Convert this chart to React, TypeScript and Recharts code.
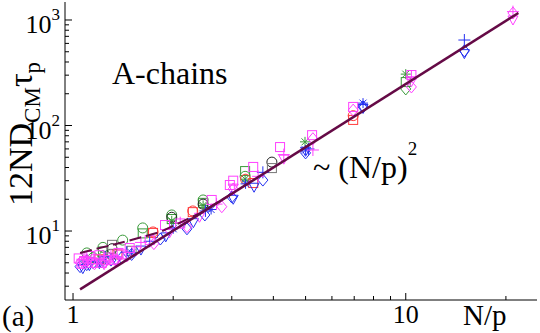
import React from "react"
import { ScatterChart, Scatter, XAxis, YAxis } from "recharts"

const X_DOMAIN = [0.946, 24.8]
const Y_DOMAIN = [2.22, 1481]
const X_TICKS = [1, 2, 3, 4, 5, 6, 7, 8, 9, 10, 20]
const Y_TICKS = [3, 4, 5, 6, 7, 8, 9, 10, 20, 30, 40, 50, 60, 70, 80, 90, 100, 200, 300, 400, 500, 600, 700, 800, 900, 1000]
const X_LABELS = [1, 10]
const Y_LABELS = [10, 100, 1000]

// fits: ~ (N/p)^2 and the low-N/p crossover
const fitX = [1.05, 21.8]
const fitY = [2.8, 1165]
const crossX = [1.05, 1.45, 1.83, 2.41, 3.03]
const crossY = [6.2, 8.0, 9.8, 14.8, 23]

const greenCircleX = [1.1, 1.15, 1.23, 1.3, 1.41, 1.62, 1.98, 2.46, 3.29]
const greenCircleY = [6.2, 5.6, 7.0, 6.0, 8.2, 10.7, 14.2, 19.7, 33]
const greenSquareX = [1.23, 1.62, 1.98, 2.46, 3.29, 10.0]
const greenSquareY = [6.4, 9.5, 13.0, 18.5, 37, 258]
const greenStarX = [1.98, 2.46, 3.29, 4.98, 10.0]
const greenStarY = [12.5, 17.5, 31, 70, 307]
const greenDiamondX = [1.1, 1.23, 10.0]
const greenDiamondY = [5.2, 5.8, 222]

const blueDiamondX = [1.05, 1.1, 1.15, 1.22, 1.3, 1.4, 1.5, 1.83, 2.2, 2.49, 3.0, 3.72, 5.0, 7.44, 15.0]
const blueDiamondY = [4.6, 4.8, 5.0, 5.1, 5.3, 5.6, 6.0, 8.4, 10.5, 14.2, 21, 30.4, 55, 150, 510]
const blueTriX = [1.07, 1.12, 1.2, 1.35, 1.6, 1.9, 2.3, 3.03, 3.5, 5.0, 7.44, 15.0]
const blueTriY = [4.4, 4.7, 4.9, 5.2, 6.6, 8.8, 12.0, 20, 26, 57, 145, 480]
const bluePlusX = [1.1, 1.25, 1.45, 1.7, 2.5, 3.72, 5.1, 15.0]
const bluePlusY = [5.3, 5.7, 6.3, 8.0, 15.5, 36, 60, 646]
const blueStarX = [1.2, 1.5, 2.0, 2.6, 3.3, 5.0, 7.44]
const blueStarY = [5.0, 6.2, 10.5, 16, 28, 58.6, 163]

const magSquareX = [1.04, 1.06, 1.08, 1.12, 1.14, 1.17, 1.2, 1.22, 1.26, 1.28, 1.33, 1.37, 1.4, 1.48, 1.7, 1.89, 2.1, 2.61, 2.96, 3.03, 3.48, 4.19, 5.23, 6.95, 10.4]
const magSquareY = [5.5, 4.9, 5.2, 5.8, 5.0, 5.4, 5.9, 5.0, 5.3, 5.6, 5.3, 6.2, 6.0, 6.9, 8.2, 11.4, 11.8, 19.7, 27.3, 30, 40.5, 62.5, 81, 150, 301]
const magDiamondX = [1.05, 1.1, 1.16, 1.25, 1.35, 1.45, 1.75, 2.2, 2.8, 3.03, 5.26, 6.95, 10.4, 21.0]
const magDiamondY = [5.0, 5.3, 4.9, 5.1, 5.4, 5.8, 7.6, 11.0, 17, 25, 75, 140, 232, 1164]
const magTriX = [1.07, 1.14, 1.24, 1.34, 1.55, 1.95, 2.4, 3.03, 4.3, 10.4, 21.0]
const magTriY = [4.9, 5.1, 4.8, 5.2, 6.5, 9.6, 13.5, 25.5, 48, 260, 1000]
const magPlusX = [1.1, 1.3, 1.6, 2.1, 2.7, 3.6, 4.3, 5.26, 10.4, 21.0]
const magPlusY = [5.6, 5.9, 7.8, 12, 18, 33, 53, 58.6, 290, 1200]

const redSquareX = [1.2, 1.36, 1.74, 2.29, 3.48, 6.95]
const redSquareY = [5.4, 6.0, 9.6, 15.1, 28.5, 113]
const redCircleX = [1.74, 2.29, 3.3, 6.95]
const redCircleY = [9.8, 15.5, 31, 124]

const blackCircleX = [1.31, 1.98, 2.46, 3.96]
const blackCircleY = [6.8, 13.5, 18, 45]
const graySquareX = [1.31, 1.5, 3.96]
const graySquareY = [7.4, 6.5, 39.5]

const zip = (xs: number[], ys: number[]) => xs.map((x, i) => ({ x, y: ys[i] }))

const SERIF = "Liberation Serif, Times New Roman, DejaVu Serif, serif"
const GREEN = "#3a9a3a"
const BLUE = "#2430f0"
const MAGENTA = "#ff40ff"
const RED = "#ff3a3a"
const FIT = "#650a46"

type Kind = "circle" | "square" | "diamond" | "tri" | "plus" | "star"

const marker = (kind: Kind, color: string) => (props: any) => {
  const { cx, cy } = props
  if (cx == null || cy == null) return <g />
  const s = { stroke: color, strokeWidth: 1, fill: "none" }
  switch (kind) {
    case "circle":
      return <circle cx={cx} cy={cy} r={5} {...s} />
    case "square":
      return <rect x={cx - 4.5} y={cy - 4.5} width={9} height={9} {...s} />
    case "diamond":
      return <path d={`M${cx},${cy - 6}L${cx + 5},${cy}L${cx},${cy + 6}L${cx - 5},${cy}Z`} {...s} />
    case "tri":
      return <path d={`M${cx - 5},${cy - 4}L${cx + 5},${cy - 4}L${cx},${cy + 5}Z`} {...s} />
    case "plus":
      return <path d={`M${cx - 6},${cy}H${cx + 6}M${cx},${cy - 6}V${cy + 6}`} {...s} />
    default:
      return (
        <path
          d={`M${cx - 5},${cy}H${cx + 5}M${cx},${cy - 5}V${cy + 5}M${cx - 3.5},${cy - 3.5}L${cx + 3.5},${cy + 3.5}M${cx - 3.5},${cy + 3.5}L${cx + 3.5},${cy - 3.5}`}
          {...s}
        />
      )
  }
}

const noDot = () => <g />

const textStyle = { fontFamily: SERIF }

function BottomTick(props: any) {
  const { x, y, payload } = props
  const major = X_LABELS.includes(payload.value)
  return (
    <g>
      <line x1={x} x2={x} y1={y} y2={y - (major ? 7 : 4)} stroke="#000" />
      {major && (
        <text x={x} y={y + 23} textAnchor="middle" fontSize={26} style={textStyle} fill="#000">
          {payload.value}
        </text>
      )}
    </g>
  )
}

function TopTick(props: any) {
  const { x, y, payload } = props
  const major = X_LABELS.includes(payload.value)
  return <line x1={x} x2={x} y1={y} y2={y + (major ? 7 : 4)} stroke="#000" />
}

function LeftTick(props: any) {
  const { x, y, payload } = props
  const major = Y_LABELS.includes(payload.value)
  const exp = Math.round(Math.log10(payload.value))
  return (
    <g>
      <line x1={x} x2={x + (major ? 7 : 4)} y1={y} y2={y} stroke="#000" />
      {major && (
        <text x={x - 5} y={y + 13} textAnchor="end" fontSize={26} style={textStyle} fill="#000">
          10
          <tspan dy={-13} fontSize={17}>
            {exp}
          </tspan>
        </text>
      )}
    </g>
  )
}

function RightTick(props: any) {
  const { x, y, payload } = props
  const major = Y_LABELS.includes(payload.value)
  return <line x1={x} x2={x - (major ? 7 : 4)} y1={y} y2={y} stroke="#000" />
}

const series: [number[], number[], Kind, string][] = [
  [greenCircleX, greenCircleY, "circle", GREEN],
  [greenSquareX, greenSquareY, "square", GREEN],
  [greenStarX, greenStarY, "star", GREEN],
  [greenDiamondX, greenDiamondY, "diamond", GREEN],
  [blackCircleX, blackCircleY, "circle", "#222"],
  [graySquareX, graySquareY, "square", "#777"],
  [redSquareX, redSquareY, "square", RED],
  [redCircleX, redCircleY, "circle", RED],
  [blueDiamondX, blueDiamondY, "diamond", BLUE],
  [blueTriX, blueTriY, "tri", BLUE],
  [bluePlusX, bluePlusY, "plus", BLUE],
  [blueStarX, blueStarY, "star", BLUE],
  [magSquareX, magSquareY, "square", MAGENTA],
  [magDiamondX, magDiamondY, "diamond", MAGENTA],
  [magTriX, magTriY, "tri", MAGENTA],
  [magPlusX, magPlusY, "plus", MAGENTA],
]

export default function App() {
  return (
    <div style={{ position: "absolute", left: 0, top: 0, width: 540, height: 333, background: "#fff" }}>
      <ScatterChart width={540} height={333} margin={{ top: 2, right: 3, bottom: 0, left: 0 }}>
        <XAxis
          type="number"
          dataKey="x"
          scale="log"
          domain={X_DOMAIN}
          allowDataOverflow
          ticks={X_TICKS}
          interval={0}
          tick={<BottomTick />}
          tickLine={false}
          tickSize={0}
          tickMargin={0}
          height={33}
          axisLine={{ stroke: "#000" }}
        />
        <XAxis
          xAxisId="top"
          orientation="top"
          type="number"
          dataKey="x"
          scale="log"
          domain={X_DOMAIN}
          allowDataOverflow
          ticks={X_TICKS}
          interval={0}
          tick={<TopTick />}
          tickLine={false}
          tickSize={0}
          tickMargin={0}
          height={0}
          axisLine={{ stroke: "#000" }}
        />
        <YAxis
          type="number"
          dataKey="y"
          scale="log"
          domain={Y_DOMAIN}
          allowDataOverflow
          ticks={Y_TICKS}
          interval={0}
          tick={<LeftTick />}
          tickLine={false}
          tickSize={0}
          tickMargin={0}
          width={65}
          axisLine={{ stroke: "#000" }}
        />
        <YAxis
          yAxisId="right"
          orientation="right"
          type="number"
          dataKey="y"
          scale="log"
          domain={Y_DOMAIN}
          allowDataOverflow
          ticks={Y_TICKS}
          interval={0}
          tick={<RightTick />}
          tickLine={false}
          tickSize={0}
          tickMargin={0}
          width={0}
          axisLine={{ stroke: "#000" }}
        />
        {series.map(([xs, ys, kind, color], i) => (
          <Scatter key={i} data={zip(xs, ys)} shape={marker(kind, color)} isAnimationActive={false} />
        ))}
        <Scatter
          data={zip(crossX, crossY)}
          shape={noDot}
          line={{ stroke: FIT, strokeWidth: 2, strokeDasharray: "12 5" }}
          isAnimationActive={false}
        />
        <Scatter data={zip(fitX, fitY)} shape={noDot} line={{ stroke: FIT, strokeWidth: 2.5 }} isAnimationActive={false} />
      </ScatterChart>
      <svg width={540} height={333} style={{ position: "absolute", left: 0, top: 0, pointerEvents: "none" }}>
        <g style={textStyle} fill="#000">
          <text transform="translate(32,206) rotate(-90)" fontSize={34}>
            12ND
            <tspan dy={8} fontSize={23}>
              CM
            </tspan>
            <tspan dy={-8} fontSize={34}>
              τ
            </tspan>
            <tspan dy={8} fontSize={23}>
              p
            </tspan>
          </text>
          <text x={112} y={84} fontSize={32}>
            A-chains
          </text>
          <text x={313} y={178} fontSize={32}>
            ~ (N/p)
            <tspan dy={-23} fontSize={19}>
              2
            </tspan>
          </text>
          <text x={2} y={326} fontSize={29}>
            (a)
          </text>
          <text x={463} y={325} fontSize={29}>
            N/p
          </text>
        </g>
      </svg>
    </div>
  )
}
